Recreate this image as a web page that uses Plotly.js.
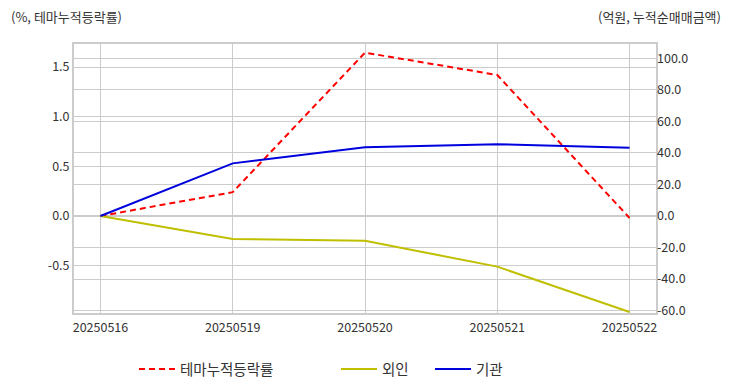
<!DOCTYPE html>
<html>
<head>
<meta charset="utf-8">
<script src="https://cdn.plot.ly/plotly-3.0.1.min.js"></script>
<style>html,body{margin:0;padding:0;background:#fff;}#chart{width:732px;height:392px;}</style>
</head>
<body>
<div id="chart"></div>
<script>
const dates = ["20250516", "20250519", "20250520", "20250521", "20250522"];
const themeRate = [0.0, 0.24, 1.645, 1.42, -0.02];
const foreign = [0.0, -14.6, -15.7, -32.1, -60.9];
const institution = [0.0, 33.4, 43.6, 45.5, 43.3];

const leftTicks = [-0.5, 0.0, 0.5, 1.0, 1.5];
const rightTicks = [-60, -40, -20, 0, 20, 40, 60, 80, 100];

const leftTitle = "(%, 테마누적등락률)";
const rightTitle = "(억원, 누적순매매금액)";

const FONT = "'Noto Sans CJK KR', 'Noto Sans', sans-serif";
const fmt = v => v.toFixed(1);

const traces = [
  {x: dates, y: themeRate, name: "테마누적등락률", type: "scatter", mode: "lines",
   line: {color: "#ff0000", width: 2, dash: "6px,4px"}, yaxis: "y", legend: "legend"},
  {x: dates, y: foreign, name: "외인", type: "scatter", mode: "lines",
   line: {color: "#bfbf00", width: 2}, yaxis: "y2", legend: "legend2"},
  {x: dates, y: institution, name: "기관", type: "scatter", mode: "lines",
   line: {color: "#0000dd", width: 2}, yaxis: "y2", legend: "legend3"}
];

const legendBase = {orientation: "h", xref: "container", yref: "container", yanchor: "middle",
  xanchor: "left", itemwidth: 36, font: {family: FONT, size: 14.5, color: "#333"}, bgcolor: "rgba(0,0,0,0)"};

const layout = {
  width: 732, height: 392,
  margin: {l: 74, r: 76, t: 44, b: 79},
  paper_bgcolor: "#fff", plot_bgcolor: "#fff",
  font: {family: FONT, size: 12.5, color: "#333"},
  showlegend: true,
  legend: Object.assign({}, legendBase, {x: 134/732, y: 1 - 369/392}),
  legend2: Object.assign({}, legendBase, {x: 336/732, y: 1 - 369/392}),
  legend3: Object.assign({}, legendBase, {x: 430/732, y: 1 - 369/392}),
  xaxis: {type: "category", range: [-0.2, 4.2], showgrid: true, gridcolor: "#cccccc", gridwidth: 1,
    showline: true, linecolor: "#cccccc", linewidth: 2, mirror: true, ticks: "", ticklen: 0,
    ticklabelstandoff: 2,
    tickfont: {family: FONT, size: 12.5, color: "#333"}, zeroline: false},
  yaxis: {range: [-0.977, 1.732], tickvals: leftTicks, ticktext: leftTicks.map(fmt),
    showgrid: true, gridcolor: "#cccccc", gridwidth: 1, zeroline: false,
    showline: true, linecolor: "#cccccc", linewidth: 2, mirror: true, ticks: "",
    tickfont: {family: FONT, size: 12.5, color: "#333"}},
  yaxis2: {range: [-61.5, 109.1], tickvals: rightTicks, ticktext: rightTicks.map(fmt),
    overlaying: "y", side: "right", showgrid: true, gridcolor: "#cccccc", gridwidth: 1, zeroline: false,
    showline: false, ticks: "", tickfont: {family: FONT, size: 12.5, color: "#333"}},
  annotations: [
    {text: leftTitle, xref: "paper", yref: "paper", x: 0, y: 1, xshift: -65, yshift: 28,
     xanchor: "left", yanchor: "middle", showarrow: false, font: {family: FONT, size: 13, color: "#333"}},
    {text: rightTitle, xref: "paper", yref: "paper", x: 1, y: 1, xshift: 67, yshift: 28,
     xanchor: "right", yanchor: "middle", showarrow: false, font: {family: FONT, size: 13, color: "#333"}}
  ]
};

Plotly.newPlot("chart", traces, layout, {displayModeBar: false, staticPlot: true});
</script>
</body>
</html>
